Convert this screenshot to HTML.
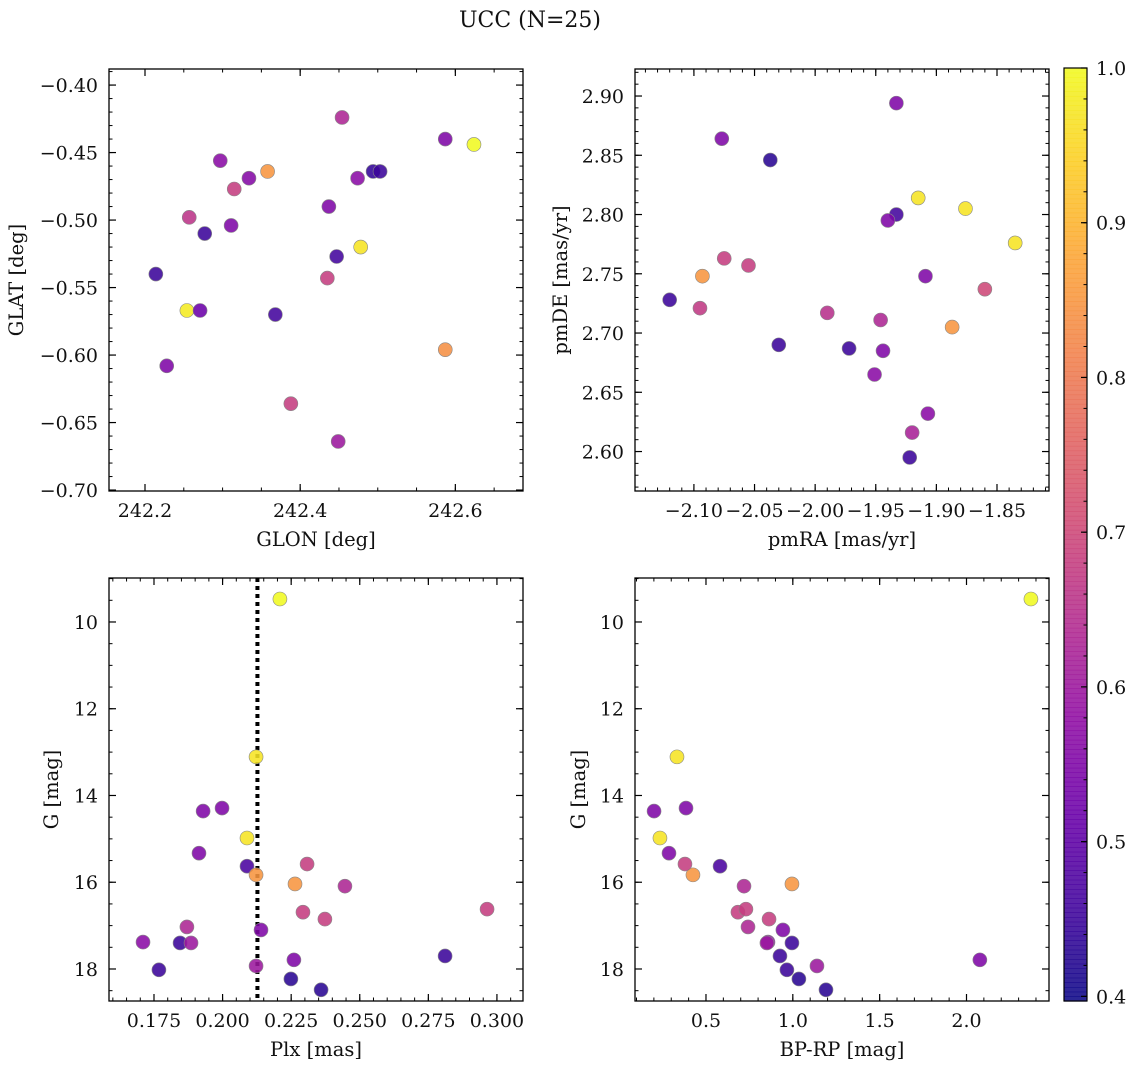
<!DOCTYPE html>
<html><head><meta charset="utf-8"><style>
body{margin:0;background:#fff}
svg text{font-family:"DejaVu Serif","Liberation Serif",serif;fill:#111}
</style></head><body>
<svg id="fig" width="1136" height="1068" viewBox="0 0 1136 1068" xmlns="http://www.w3.org/2000/svg">
<text x="530" y="27" font-size="22" text-anchor="middle">UCC (N=25)</text>
</svg>
<script>
// ---- data ----
const glon = [242.297,242.334,242.358,242.315,242.257,242.277,242.311,242.214,242.254,242.271,242.228,242.368,242.388,242.454,242.437,242.447,242.435,242.478,242.474,242.494,242.503,242.449,242.587,242.624,242.587];
const glat = [-0.456,-0.469,-0.464,-0.477,-0.498,-0.510,-0.504,-0.540,-0.567,-0.567,-0.608,-0.570,-0.636,-0.424,-0.490,-0.527,-0.543,-0.520,-0.469,-0.464,-0.464,-0.664,-0.440,-0.444,-0.596];
const probA = [0.57,0.56,0.85,0.68,0.66,0.45,0.55,0.45,0.98,0.52,0.55,0.46,0.68,0.63,0.55,0.46,0.68,0.97,0.57,0.44,0.45,0.60,0.55,1.0,0.84];

const pmra = [-1.933,-2.077,-2.037,-1.915,-1.876,-1.933,-1.940,-1.835,-2.075,-2.055,-2.093,-1.909,-2.120,-2.095,-1.860,-1.990,-1.946,-1.887,-2.030,-1.972,-1.944,-1.951,-1.907,-1.920,-1.922];
const pmde = [2.894,2.864,2.846,2.814,2.805,2.800,2.795,2.776,2.763,2.757,2.748,2.748,2.728,2.721,2.737,2.717,2.711,2.705,2.690,2.687,2.685,2.665,2.632,2.616,2.595];
const probB = [0.55,0.55,0.43,0.97,0.97,0.46,0.55,0.97,0.68,0.68,0.85,0.55,0.45,0.67,0.70,0.65,0.63,0.85,0.45,0.45,0.55,0.57,0.57,0.62,0.45];

const plx = [0.2209,0.2122,0.1929,0.1998,0.1914,0.2089,0.2089,0.2122,0.2308,0.2264,0.2446,0.2293,0.2373,0.2964,0.1870,0.2140,0.1710,0.1845,0.1885,0.2811,0.2260,0.2122,0.1768,0.2249,0.2359];
const gmag = [9.47,13.11,14.36,14.29,15.33,14.98,15.63,15.83,15.58,16.04,16.09,16.69,16.85,16.62,17.03,17.10,17.38,17.40,17.40,17.70,17.79,17.93,18.02,18.23,18.48];
const bprp = [2.371,0.333,0.201,0.385,0.287,0.235,0.581,0.425,0.379,0.995,0.719,0.684,0.863,0.730,0.742,0.943,0.857,0.995,0.851,0.926,2.077,1.139,0.966,1.035,1.191];
const probC = [1.0,0.97,0.55,0.55,0.55,0.97,0.47,0.85,0.68,0.85,0.63,0.68,0.68,0.68,0.63,0.55,0.57,0.45,0.60,0.45,0.55,0.60,0.45,0.43,0.43];
const plxMedian = 0.2127;

const ticksP1x = [242.2,242.4,242.6], ticksP1y = [-0.40,-0.45,-0.50,-0.55,-0.60,-0.65,-0.70];
const ticksP2x = [-2.10,-2.05,-2.00,-1.95,-1.90,-1.85], ticksP2y = [2.60,2.65,2.70,2.75,2.80,2.85,2.90];
const ticksP3x = [0.175,0.200,0.225,0.250,0.275,0.300], ticksGy = [10,12,14,16,18];
const ticksP4x = [0.5,1.0,1.5,2.0];
const cbTicks = [0.4,0.5,0.6,0.7,0.8,0.9,1.0];

const NS="http://www.w3.org/2000/svg";
const svg=document.getElementById('fig');
function el(t,a,p){const e=document.createElementNS(NS,t);for(const k in a)e.setAttribute(k,a[k]);(p||svg).appendChild(e);return e;}
const stops=['#0d0887','#41049d','#6a00a8','#8f0da4','#b12a90','#cc4778','#e16462','#f2844b','#fca636','#fcce25','#f0f921'];
function hx(h){return [1,3,5].map(i=>parseInt(h.substr(i,2),16));}
function plasma(t){t=Math.max(0,Math.min(1,t));const f=t*10,i=Math.min(9,Math.floor(f)),r=f-i;const a=hx(stops[i]),b=hx(stops[i+1]);return 'rgb('+a.map((v,k)=>Math.round(v+(b[k]-v)*r)).join(',')+')';}
const vmin=0.397,vmax=1.0;
function cmap(v){return plasma((v-vmin)/(vmax-vmin));}
function fmt(v,d){return (v<0?'\u2212':'')+Math.abs(v).toFixed(d);}
const TF=19, LF=19.5;

function panel(o){
  const g=el('g',{});
  
  
  const sx=v=>o.bx0+(v-o.xmin)/(o.xmax-o.xmin)*(o.bx1-o.bx0);
  const sy=v=>o.by0+(v-o.ymax)/(o.ymin-o.ymax)*(o.by1-o.by0);
  const eps=1e-9;
  for(let v=Math.ceil(o.xmin/o.xminor-eps)*o.xminor; v<=o.xmax+eps; v+=o.xminor){const x=sx(v);
    el('line',{x1:x,x2:x,y1:o.by1,y2:o.by1-3.5,stroke:'#000','stroke-width':1},g);el('line',{x1:x,x2:x,y1:o.by0,y2:o.by0+3.5,stroke:'#000','stroke-width':1},g);}
  const ylo=Math.min(o.ymin,o.ymax),yhi=Math.max(o.ymin,o.ymax);
  for(let v=Math.ceil(ylo/o.yminor-eps)*o.yminor; v<=yhi+eps; v+=o.yminor){const y=sy(v);
    el('line',{x1:o.bx0,x2:o.bx0+3.5,y1:y,y2:y,stroke:'#000','stroke-width':1},g);el('line',{x1:o.bx1,x2:o.bx1-3.5,y1:y,y2:y,stroke:'#000','stroke-width':1},g);}
  o.xt.forEach(v=>{const x=sx(v);
    el('line',{x1:x,x2:x,y1:o.by1,y2:o.by1-7,stroke:'#000','stroke-width':1.2},g);el('line',{x1:x,x2:x,y1:o.by0,y2:o.by0+7,stroke:'#000','stroke-width':1.2},g);
    const t=el('text',{x:x,y:o.by1+26,'font-size':TF,'text-anchor':'middle'},g);t.textContent=fmt(v,o.xd);
    
    });
  o.yt.forEach(v=>{const y=sy(v);
    el('line',{x1:o.bx0,x2:o.bx0+7,y1:y,y2:y,stroke:'#000','stroke-width':1.2},g);el('line',{x1:o.bx1,x2:o.bx1-7,y1:y,y2:y,stroke:'#000','stroke-width':1.2},g);
    const t=el('text',{x:o.bx0-11,y:y+7,'font-size':TF,'text-anchor':'end'},g);t.textContent=fmt(v,o.yd);
    
    });
  if(o.vline!==undefined){const x=sx(o.vline);const l=el('line',{x1:x,x2:x,y1:o.by0,y2:o.by1,stroke:'#000','stroke-width':4,'stroke-dasharray':'4,4'},g);
    
    }
  o.xs.forEach((v,i)=>{const c=el('circle',{cx:sx(v),cy:sy(o.ys[i]),r:7,fill:cmap(o.cs[i]),'fill-opacity':0.88,stroke:'#888','stroke-width':0.6},g);
    
    });
  const b=el('rect',{x:o.bx0,y:o.by0,width:o.bx1-o.bx0,height:o.by1-o.by0,fill:'none',stroke:'#000','stroke-width':1.3},g);
  
  
  const xl=el('text',{x:(o.bx0+o.bx1)/2,y:o.by1+55,'font-size':LF,'text-anchor':'middle'},g);xl.textContent=o.xl;
  
  
  const cy=(o.by0+o.by1)/2;
  const yl=el('text',{x:o.ylx,y:cy,'font-size':LF,'text-anchor':'middle',transform:'rotate(-90 '+o.ylx+' '+cy+')'},g);yl.textContent=o.yl;
  
  
}
panel({name:'glon-glat-panel',bx0:109,bx1:523,by0:69,by1:491,xmin:242.1536,xmax:242.6872,ymin:-0.7007,ymax:-0.3881,xminor:0.05,yminor:0.01,xt:ticksP1x,yt:ticksP1y,xd:1,yd:2,xs:glon,ys:glat,cs:probA,xl:'GLON [deg]',yl:'GLAT [deg]',ylx:23});
panel({name:'pm-panel',bx0:635,bx1:1049,by0:69,by1:491,xmin:-2.1486,xmax:-1.8071,ymin:2.5667,ymax:2.9228,xminor:0.01,yminor:0.01,xt:ticksP2x,yt:ticksP2y,xd:2,yd:2,xs:pmra,ys:pmde,cs:probB,xl:'pmRA [mas/yr]',yl:'pmDE [mas/yr]',ylx:567});
panel({name:'plx-g-panel',bx0:109,bx1:523,by0:578,by1:1001,xmin:0.1586,xmax:0.3095,ymin:18.738,ymax:8.986,xminor:0.005,yminor:0.5,xt:ticksP3x,yt:ticksGy,xd:3,yd:0,xs:plx,ys:gmag,cs:probC,xl:'Plx [mas]',yl:'G [mag]',ylx:58,vline:plxMedian});
panel({name:'cmd-panel',bx0:635,bx1:1049,by0:578,by1:1001,xmin:0.0913,xmax:2.475,ymin:18.738,ymax:8.986,xminor:0.1,yminor:0.5,xt:ticksP4x,yt:ticksGy,xd:1,yd:0,xs:bprp,ys:gmag,cs:probC,xl:'BP-RP [mag]',yl:'G [mag]',ylx:585});

// colorbar
const cb=el('g',{});


const cbx=1064,cbw=23,cbt=68,cbb=1001;
const cy=v=>cbb-(v-vmin)/(vmax-vmin)*(cbb-cbt);
for(let i=0;i<200;i++){const y0=cbt+i*(cbb-cbt)/200;const v=vmax-(i+0.5)/200*(vmax-vmin);
  el('rect',{x:cbx,y:y0,width:cbw,height:(cbb-cbt)/200+0.6,fill:cmap(v),'fill-opacity':0.88},cb);}
for(let v=0.40;v<=1.0001;v+=0.02){const y=cy(v);el('line',{x1:cbx+cbw,x2:cbx+cbw-3.5,y1:y,y2:y,stroke:'#000','stroke-width':1},cb);}
cbTicks.forEach(v=>{const y=cy(v);el('line',{x1:cbx+cbw,x2:cbx+cbw-6,y1:y,y2:y,stroke:'#000','stroke-width':1.2},cb);
  const t=el('text',{x:cbx+cbw+9,y:y+7,'font-size':TF},cb);t.textContent=v.toFixed(1);
  
  });
el('rect',{x:cbx,y:cbt,width:cbw,height:cbb-cbt,fill:'none',stroke:'#000','stroke-width':1.2},cb);
</script>
</body></html>
